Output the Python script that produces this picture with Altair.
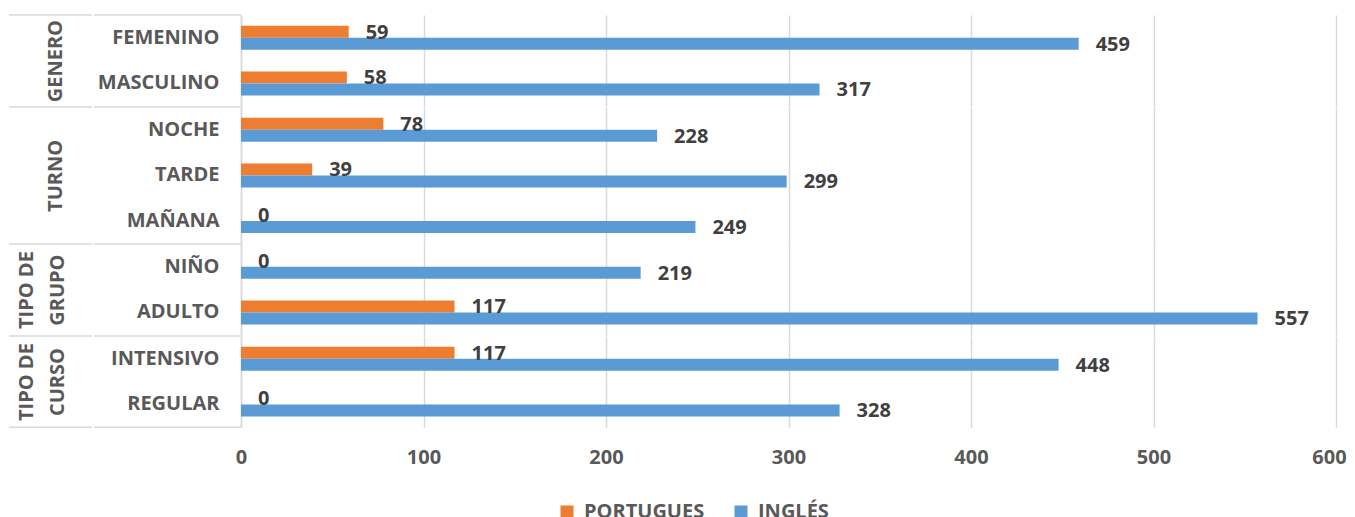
import altair as alt
import pandas as pd

groups = ["GENERO", "GENERO", "TURNO", "TURNO", "TURNO",
          "TIPO DE GRUPO", "TIPO DE GRUPO", "TIPO DE CURSO", "TIPO DE CURSO"]
categories = ["FEMENINO", "MASCULINO", "NOCHE", "TARDE", "MAÑANA",
              "NIÑO", "ADULTO", "INTENSIVO", "REGULAR"]
portugues = [59, 58, 78, 39, 0, 0, 117, 117, 0]
ingles = [459, 317, 228, 299, 249, 219, 557, 448, 328]
series = ["PORTUGUES", "INGLÉS"]
colors = ["#ED7D31", "#5B9BD5"]
group_order = ["GENERO", "TURNO", "TIPO DE GRUPO", "TIPO DE CURSO"]
group_titles = {"GENERO": "GENERO", "TURNO": "TURNO",
                "TIPO DE GRUPO": ["TIPO DE", "GRUPO"],
                "TIPO DE CURSO": ["TIPO DE", "CURSO"]}
x_ticks = [0, 100, 200, 300, 400, 500, 600]

rows = []
for g, c, p, i in zip(groups, categories, portugues, ingles):
    rows.append({"group": g, "cat": c, "series": series[0], "value": p})
    rows.append({"group": g, "cat": c, "series": series[1], "value": i})
df = pd.DataFrame(rows)

FONT = "Open Sans"
STEP = 45.6
W = 1095
LINE = "#D9D9D9"
LEFT = 232


def panel(g, last):
    sub = df[df.group == g]
    cats = [c for c, gg in zip(categories, groups) if gg == g]
    n = len(cats)
    H = n * STEP
    title = group_titles[g]
    multi = isinstance(title, list)
    y = alt.Y("cat:N", sort=cats,
              scale=alt.Scale(paddingInner=0.474, paddingOuter=0.237),
              axis=alt.Axis(title=title, titleX=-215 if multi else -186,
                            titleY=H / 2, titleAngle=270,
                            titleAlign="center", titleBaseline="middle",
                            titleLineHeight=31, labelPadding=22, ticks=False,
                            domainColor=LINE, domainWidth=1.5))
    x = alt.X("value:Q", scale=alt.Scale(domain=[0, 600], nice=False),
              axis=alt.Axis(values=x_ticks, grid=True, gridColor=LINE,
                            gridWidth=1.5, labels=last, labelFlush=False,
                            labelOffset={"condition": {"test": "datum.value == 600", "value": -7},
                                         "value": 0},
                            domain=False, ticks=False, title=None,
                            labelPadding=20))
    yoff = alt.YOffset("series:N", sort=series,
                       scale=alt.Scale(paddingInner=0, paddingOuter=0))
    legend = alt.Legend(orient="none", legendX=316, legendY=487,
                        direction="horizontal", title=None,
                        symbolType="square", symbolSize=169,
                        symbolStrokeWidth=0, labelOffset=7,
                        columnPadding=26, padding=0)
    color = alt.Color("series:N", sort=series,
                      scale=alt.Scale(domain=series, range=colors),
                      legend=legend)
    base = alt.Chart(sub).encode(y=y, x=x, yOffset=yoff)
    bars = base.mark_bar().encode(color=color)
    text = base.mark_text(align="left", baseline="middle", dx=17, dy=1,
                          fontSize=20, fontWeight="bold", color="#404040",
                          font=FONT).encode(text="value:Q")
    line_data = alt.Data(values=[{"k": 1}])
    layers = [bars, text]
    ys = [0] + ([H] if last else [])
    for yy in ys:
        layers.append(alt.Chart(line_data).mark_rule(color=LINE, strokeWidth=1.5).encode(
            x=alt.value(-LEFT), x2=alt.value(-149), y=alt.value(yy)))
        layers.append(alt.Chart(line_data).mark_rule(color=LINE, strokeWidth=1.5).encode(
            x=alt.value(-147), x2=alt.value(0), y=alt.value(yy)))
    return alt.layer(*layers).properties(width=W, height=H)


panels = [panel(g, i == len(group_order) - 1) for i, g in enumerate(group_order)]

chart = alt.vconcat(*panels, spacing=0, bounds="flush").resolve_scale(
    y="independent", yOffset="independent", x="shared", color="shared"
).properties(
    padding={"left": 0, "top": 6, "right": 0, "bottom": 0}
).configure(font=FONT).configure_view(stroke=None).configure_axis(
    labelFont=FONT, labelFontSize=20, labelFontWeight="bold",
    labelColor="#595959", titleFont=FONT, titleFontSize=20,
    titleFontWeight="bold", titleColor="#595959"
).configure_legend(
    labelFont=FONT, labelFontSize=20, labelFontWeight="bold",
    labelColor="#595959"
)

chart.save("out.html", embed_options={"renderer": "svg", "actions": False})
